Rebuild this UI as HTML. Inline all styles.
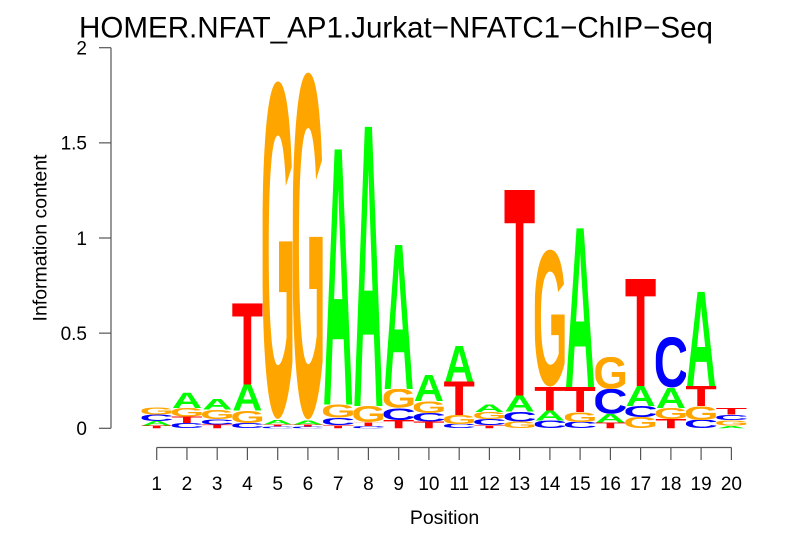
<!DOCTYPE html>
<html>
<head>
<meta charset="utf-8">
<style>
  html, body { margin: 0; padding: 0; background: #ffffff; }
  svg { display: block; }
  .lbl { font-family: "Liberation Sans", Arial, sans-serif; fill: #000; }
  .L { font-family: "Liberation Sans", Arial, sans-serif; font-weight: bold; font-size: 100px; }
  .a { fill: #00ff00; }
  .c { fill: #0000ff; }
  .g { fill: #ffa500; }
  .t { fill: #ff0000; }
</style>
</head>
<body>
<svg width="806" height="559" viewBox="0 0 806 559" xmlns="http://www.w3.org/2000/svg">
  <rect x="0" y="0" width="806" height="559" fill="#ffffff"/>

  <!-- Title -->
  <text class="lbl" x="79" y="37.5" font-size="30" textLength="634" lengthAdjust="spacingAndGlyphs">HOMER.NFAT_AP1.Jurkat−NFATC1−ChIP−Seq</text>

  <!-- Y axis -->
  <g stroke="#555" stroke-width="1.2" fill="none">
    <line x1="111" y1="47.7" x2="111" y2="428.3"/>
    <line x1="99" y1="47.7" x2="111" y2="47.7"/>
    <line x1="99" y1="142.85" x2="111" y2="142.85"/>
    <line x1="99" y1="238" x2="111" y2="238"/>
    <line x1="99" y1="333.15" x2="111" y2="333.15"/>
    <line x1="99" y1="428.3" x2="111" y2="428.3"/>
  </g>
  <g class="lbl" font-size="19" text-anchor="end">
    <text x="87" y="54.5">2</text>
    <text x="87" y="149.6">1.5</text>
    <text x="87" y="244.8">1</text>
    <text x="87" y="339.9">0.5</text>
    <text x="87" y="435">0</text>
  </g>
  <text class="lbl" font-size="19.5" text-anchor="middle" transform="translate(46.5,238) rotate(-90)">Information content</text>

  <!-- X axis -->
  <g stroke="#555" stroke-width="1.2" fill="none">
    <line x1="156.7" y1="447.5" x2="731.4" y2="447.5"/>
    <line x1="156.7" y1="447.5" x2="156.7" y2="460"/>
    <line x1="186.95" y1="447.5" x2="186.95" y2="460"/>
    <line x1="217.2" y1="447.5" x2="217.2" y2="460"/>
    <line x1="247.4" y1="447.5" x2="247.4" y2="460"/>
    <line x1="277.7" y1="447.5" x2="277.7" y2="460"/>
    <line x1="307.9" y1="447.5" x2="307.9" y2="460"/>
    <line x1="338.2" y1="447.5" x2="338.2" y2="460"/>
    <line x1="368.4" y1="447.5" x2="368.4" y2="460"/>
    <line x1="398.7" y1="447.5" x2="398.7" y2="460"/>
    <line x1="428.9" y1="447.5" x2="428.9" y2="460"/>
    <line x1="459.2" y1="447.5" x2="459.2" y2="460"/>
    <line x1="489.4" y1="447.5" x2="489.4" y2="460"/>
    <line x1="519.6" y1="447.5" x2="519.6" y2="460"/>
    <line x1="549.9" y1="447.5" x2="549.9" y2="460"/>
    <line x1="580.1" y1="447.5" x2="580.1" y2="460"/>
    <line x1="610.4" y1="447.5" x2="610.4" y2="460"/>
    <line x1="640.6" y1="447.5" x2="640.6" y2="460"/>
    <line x1="670.9" y1="447.5" x2="670.9" y2="460"/>
    <line x1="701.1" y1="447.5" x2="701.1" y2="460"/>
    <line x1="731.4" y1="447.5" x2="731.4" y2="460"/>
  </g>
  <g class="lbl" font-size="19" text-anchor="middle">
    <text x="156.7" y="490">1</text>
    <text x="186.95" y="490">2</text>
    <text x="217.2" y="490">3</text>
    <text x="247.4" y="490">4</text>
    <text x="277.7" y="490">5</text>
    <text x="307.9" y="490">6</text>
    <text x="338.2" y="490">7</text>
    <text x="368.4" y="490">8</text>
    <text x="398.7" y="490">9</text>
    <text x="428.9" y="490">10</text>
    <text x="459.2" y="490">11</text>
    <text x="489.4" y="490">12</text>
    <text x="519.6" y="490">13</text>
    <text x="549.9" y="490">14</text>
    <text x="580.1" y="490">15</text>
    <text x="610.4" y="490">16</text>
    <text x="640.6" y="490">17</text>
    <text x="670.9" y="490">18</text>
    <text x="701.1" y="490">19</text>
    <text x="731.4" y="490">20</text>
  </g>
  <text class="lbl" x="444.5" y="524" font-size="19.5" text-anchor="middle">Position</text>

  <!-- Logo letters -->
  <!-- pos 1 -->
  <svg x="141.6" y="425.5" width="30.2" height="2.8" viewBox="2.2 -68.8 56.7 68.8" preserveAspectRatio="none"><text class="L t">T</text></svg>
  <svg x="141.6" y="421" width="30.2" height="4.5" viewBox="0 -68.8 72.2 68.8" preserveAspectRatio="none"><text class="L a">A</text></svg>
  <svg x="141.6" y="414.5" width="30.2" height="6.5" viewBox="4.8 -70 62.7 71.2" preserveAspectRatio="none"><text class="L c">C</text></svg>
  <svg x="141.6" y="407" width="30.2" height="7.5" viewBox="4.9 -70 67.5 71.2" preserveAspectRatio="none"><text class="L g">G</text></svg>
  <!-- pos 2 -->
  <svg x="171.85" y="423" width="30.2" height="5.3" viewBox="4.8 -70 62.7 71.2" preserveAspectRatio="none"><text class="L c">C</text></svg>
  <svg x="171.85" y="416.5" width="30.2" height="6.5" viewBox="2.2 -68.8 56.7 68.8" preserveAspectRatio="none"><text class="L t">T</text></svg>
  <svg x="171.85" y="408" width="30.2" height="8.5" viewBox="4.9 -70 67.5 71.2" preserveAspectRatio="none"><text class="L g">G</text></svg>
  <svg x="171.85" y="392.7" width="30.2" height="15.3" viewBox="0 -68.8 72.2 68.8" preserveAspectRatio="none"><text class="L a">A</text></svg>
  <!-- pos 3 -->
  <svg x="202.1" y="424.5" width="30.2" height="3.8" viewBox="2.2 -68.8 56.7 68.8" preserveAspectRatio="none"><text class="L t">T</text></svg>
  <svg x="202.1" y="419" width="30.2" height="5.5" viewBox="4.8 -70 62.7 71.2" preserveAspectRatio="none"><text class="L c">C</text></svg>
  <svg x="202.1" y="409.5" width="30.2" height="9.5" viewBox="4.9 -70 67.5 71.2" preserveAspectRatio="none"><text class="L g">G</text></svg>
  <svg x="202.1" y="399" width="30.2" height="10.5" viewBox="0 -68.8 72.2 68.8" preserveAspectRatio="none"><text class="L a">A</text></svg>
  <!-- pos 4 -->
  <svg x="232.3" y="423" width="30.2" height="5.3" viewBox="4.8 -70 62.7 71.2" preserveAspectRatio="none"><text class="L c">C</text></svg>
  <svg x="232.3" y="410.5" width="30.2" height="12.5" viewBox="4.9 -70 67.5 71.2" preserveAspectRatio="none"><text class="L g">G</text></svg>
  <svg x="232.3" y="384.5" width="30.2" height="26" viewBox="0 -68.8 72.2 68.8" preserveAspectRatio="none"><text class="L a">A</text></svg>
  <svg x="232.3" y="303.3" width="30.2" height="81.2" viewBox="2.2 -68.8 56.7 68.8" preserveAspectRatio="none"><text class="L t">T</text></svg>
  <!-- pos 5 -->
  <svg x="262.6" y="426.3" width="30.2" height="2" viewBox="4.8 -70 62.7 71.2" preserveAspectRatio="none"><text class="L c">C</text></svg>
  <svg x="262.6" y="424.3" width="30.2" height="2" viewBox="2.2 -68.8 56.7 68.8" preserveAspectRatio="none"><text class="L t">T</text></svg>
  <svg x="262.6" y="420" width="30.2" height="4.3" viewBox="0 -68.8 72.2 68.8" preserveAspectRatio="none"><text class="L a">A</text></svg>
  <svg x="262.6" y="80.7" width="30.2" height="339.3" viewBox="4.9 -70 67.5 71.2" preserveAspectRatio="none"><text class="L g">G</text></svg>
  <!-- pos 6 -->
  <svg x="292.8" y="426.5" width="30.2" height="1.8" viewBox="4.8 -70 62.7 71.2" preserveAspectRatio="none"><text class="L c">C</text></svg>
  <svg x="292.8" y="424.5" width="30.2" height="2" viewBox="2.2 -68.8 56.7 68.8" preserveAspectRatio="none"><text class="L t">T</text></svg>
  <svg x="292.8" y="420.5" width="30.2" height="4" viewBox="0 -68.8 72.2 68.8" preserveAspectRatio="none"><text class="L a">A</text></svg>
  <svg x="292.8" y="71.7" width="30.2" height="348.8" viewBox="4.9 -70 67.5 71.2" preserveAspectRatio="none"><text class="L g">G</text></svg>
  <!-- pos 7 -->
  <svg x="323.1" y="425" width="30.2" height="3.3" viewBox="2.2 -68.8 56.7 68.8" preserveAspectRatio="none"><text class="L t">T</text></svg>
  <svg x="323.1" y="417.5" width="30.2" height="7.5" viewBox="4.8 -70 62.7 71.2" preserveAspectRatio="none"><text class="L c">C</text></svg>
  <svg x="323.1" y="404.5" width="30.2" height="13" viewBox="4.9 -70 67.5 71.2" preserveAspectRatio="none"><text class="L g">G</text></svg>
  <svg x="323.1" y="149.3" width="30.2" height="255.2" viewBox="0 -68.8 72.2 68.8" preserveAspectRatio="none"><text class="L a">A</text></svg>
  <!-- pos 8 -->
  <svg x="353.3" y="426" width="30.2" height="2.3" viewBox="4.8 -70 62.7 71.2" preserveAspectRatio="none"><text class="L c">C</text></svg>
  <svg x="353.3" y="422.5" width="30.2" height="3.5" viewBox="2.2 -68.8 56.7 68.8" preserveAspectRatio="none"><text class="L t">T</text></svg>
  <svg x="353.3" y="406" width="30.2" height="16.5" viewBox="4.9 -70 67.5 71.2" preserveAspectRatio="none"><text class="L g">G</text></svg>
  <svg x="353.3" y="126.7" width="30.2" height="279.3" viewBox="0 -68.8 72.2 68.8" preserveAspectRatio="none"><text class="L a">A</text></svg>
  <!-- pos 9 -->
  <svg x="383.6" y="420" width="30.2" height="8.3" viewBox="2.2 -68.8 56.7 68.8" preserveAspectRatio="none"><text class="L t">T</text></svg>
  <svg x="383.6" y="408" width="30.2" height="12" viewBox="4.8 -70 62.7 71.2" preserveAspectRatio="none"><text class="L c">C</text></svg>
  <svg x="383.6" y="389" width="30.2" height="19" viewBox="4.9 -70 67.5 71.2" preserveAspectRatio="none"><text class="L g">G</text></svg>
  <svg x="383.6" y="245" width="30.2" height="144" viewBox="0 -68.8 72.2 68.8" preserveAspectRatio="none"><text class="L a">A</text></svg>
  <!-- pos 10 -->
  <svg x="413.8" y="421.5" width="30.2" height="6.8" viewBox="2.2 -68.8 56.7 68.8" preserveAspectRatio="none"><text class="L t">T</text></svg>
  <svg x="413.8" y="413" width="30.2" height="8.5" viewBox="4.8 -70 62.7 71.2" preserveAspectRatio="none"><text class="L c">C</text></svg>
  <svg x="413.8" y="401" width="30.2" height="12" viewBox="4.9 -70 67.5 71.2" preserveAspectRatio="none"><text class="L g">G</text></svg>
  <svg x="413.8" y="375" width="30.2" height="26" viewBox="0 -68.8 72.2 68.8" preserveAspectRatio="none"><text class="L a">A</text></svg>
  <!-- pos 11 -->
  <svg x="444.1" y="424" width="30.2" height="4.3" viewBox="4.8 -70 62.7 71.2" preserveAspectRatio="none"><text class="L c">C</text></svg>
  <svg x="444.1" y="415" width="30.2" height="9" viewBox="4.9 -70 67.5 71.2" preserveAspectRatio="none"><text class="L g">G</text></svg>
  <svg x="444.1" y="381.5" width="30.2" height="33.5" viewBox="2.2 -68.8 56.7 68.8" preserveAspectRatio="none"><text class="L t">T</text></svg>
  <svg x="444.1" y="346" width="30.2" height="35.5" viewBox="0 -68.8 72.2 68.8" preserveAspectRatio="none"><text class="L a">A</text></svg>
  <!-- pos 12 -->
  <svg x="474.3" y="425" width="30.2" height="3.3" viewBox="2.2 -68.8 56.7 68.8" preserveAspectRatio="none"><text class="L t">T</text></svg>
  <svg x="474.3" y="419" width="30.2" height="6" viewBox="4.8 -70 62.7 71.2" preserveAspectRatio="none"><text class="L c">C</text></svg>
  <svg x="474.3" y="412" width="30.2" height="7" viewBox="4.9 -70 67.5 71.2" preserveAspectRatio="none"><text class="L g">G</text></svg>
  <svg x="474.3" y="404.5" width="30.2" height="7.5" viewBox="0 -68.8 72.2 68.8" preserveAspectRatio="none"><text class="L a">A</text></svg>
  <!-- pos 13 -->
  <svg x="504.5" y="421.5" width="30.2" height="6.8" viewBox="4.9 -70 67.5 71.2" preserveAspectRatio="none"><text class="L g">G</text></svg>
  <svg x="504.5" y="411.5" width="30.2" height="10" viewBox="4.8 -70 62.7 71.2" preserveAspectRatio="none"><text class="L c">C</text></svg>
  <svg x="504.5" y="395.5" width="30.2" height="16" viewBox="0 -68.8 72.2 68.8" preserveAspectRatio="none"><text class="L a">A</text></svg>
  <svg x="504.5" y="190" width="30.2" height="205.5" viewBox="2.2 -68.8 56.7 68.8" preserveAspectRatio="none"><text class="L t">T</text></svg>
  <!-- pos 14 -->
  <svg x="534.8" y="420.5" width="30.2" height="7.8" viewBox="4.8 -70 62.7 71.2" preserveAspectRatio="none"><text class="L c">C</text></svg>
  <svg x="534.8" y="410.5" width="30.2" height="10" viewBox="0 -68.8 72.2 68.8" preserveAspectRatio="none"><text class="L a">A</text></svg>
  <svg x="534.8" y="387" width="30.2" height="23.5" viewBox="2.2 -68.8 56.7 68.8" preserveAspectRatio="none"><text class="L t">T</text></svg>
  <svg x="534.8" y="249.3" width="30.2" height="137.7" viewBox="4.9 -70 67.5 71.2" preserveAspectRatio="none"><text class="L g">G</text></svg>
  <!-- pos 15 -->
  <svg x="565" y="422" width="30.2" height="6.3" viewBox="4.8 -70 62.7 71.2" preserveAspectRatio="none"><text class="L c">C</text></svg>
  <svg x="565" y="412" width="30.2" height="10" viewBox="4.9 -70 67.5 71.2" preserveAspectRatio="none"><text class="L g">G</text></svg>
  <svg x="565" y="387" width="30.2" height="25" viewBox="2.2 -68.8 56.7 68.8" preserveAspectRatio="none"><text class="L t">T</text></svg>
  <svg x="565" y="228.3" width="30.2" height="158.7" viewBox="0 -68.8 72.2 68.8" preserveAspectRatio="none"><text class="L a">A</text></svg>
  <!-- pos 16 -->
  <svg x="595.3" y="422.5" width="30.2" height="5.8" viewBox="2.2 -68.8 56.7 68.8" preserveAspectRatio="none"><text class="L t">T</text></svg>
  <svg x="595.3" y="414" width="30.2" height="8.5" viewBox="0 -68.8 72.2 68.8" preserveAspectRatio="none"><text class="L a">A</text></svg>
  <svg x="595.3" y="389" width="30.2" height="25" viewBox="4.8 -70 62.7 71.2" preserveAspectRatio="none"><text class="L c">C</text></svg>
  <svg x="595.3" y="356.7" width="30.2" height="32.3" viewBox="4.9 -70 67.5 71.2" preserveAspectRatio="none"><text class="L g">G</text></svg>
  <!-- pos 17 -->
  <svg x="625.5" y="417" width="30.2" height="11.3" viewBox="4.9 -70 67.5 71.2" preserveAspectRatio="none"><text class="L g">G</text></svg>
  <svg x="625.5" y="406" width="30.2" height="11" viewBox="4.8 -70 62.7 71.2" preserveAspectRatio="none"><text class="L c">C</text></svg>
  <svg x="625.5" y="386" width="30.2" height="20" viewBox="0 -68.8 72.2 68.8" preserveAspectRatio="none"><text class="L a">A</text></svg>
  <svg x="625.5" y="279" width="30.2" height="107" viewBox="2.2 -68.8 56.7 68.8" preserveAspectRatio="none"><text class="L t">T</text></svg>
  <!-- pos 18 -->
  <svg x="655.8" y="419" width="30.2" height="9.3" viewBox="2.2 -68.8 56.7 68.8" preserveAspectRatio="none"><text class="L t">T</text></svg>
  <svg x="655.8" y="408" width="30.2" height="11" viewBox="4.9 -70 67.5 71.2" preserveAspectRatio="none"><text class="L g">G</text></svg>
  <svg x="655.8" y="388" width="30.2" height="20" viewBox="0 -68.8 72.2 68.8" preserveAspectRatio="none"><text class="L a">A</text></svg>
  <svg x="655.8" y="337" width="30.2" height="51" viewBox="4.8 -70 62.7 71.2" preserveAspectRatio="none"><text class="L c">C</text></svg>
  <!-- pos 19 -->
  <svg x="686" y="420" width="30.2" height="8.3" viewBox="4.8 -70 62.7 71.2" preserveAspectRatio="none"><text class="L c">C</text></svg>
  <svg x="686" y="406" width="30.2" height="14" viewBox="4.9 -70 67.5 71.2" preserveAspectRatio="none"><text class="L g">G</text></svg>
  <svg x="686" y="386" width="30.2" height="20" viewBox="2.2 -68.8 56.7 68.8" preserveAspectRatio="none"><text class="L t">T</text></svg>
  <svg x="686" y="291.7" width="30.2" height="94.3" viewBox="0 -68.8 72.2 68.8" preserveAspectRatio="none"><text class="L a">A</text></svg>
  <!-- pos 20 -->
  <svg x="716.3" y="425.5" width="30.2" height="2.8" viewBox="0 -68.8 72.2 68.8" preserveAspectRatio="none"><text class="L a">A</text></svg>
  <svg x="716.3" y="420" width="30.2" height="5.5" viewBox="4.9 -70 67.5 71.2" preserveAspectRatio="none"><text class="L g">G</text></svg>
  <svg x="716.3" y="414.5" width="30.2" height="5.5" viewBox="4.8 -70 62.7 71.2" preserveAspectRatio="none"><text class="L c">C</text></svg>
  <svg x="716.3" y="408" width="30.2" height="6.5" viewBox="2.2 -68.8 56.7 68.8" preserveAspectRatio="none"><text class="L t">T</text></svg>
</svg>
</body>
</html>
